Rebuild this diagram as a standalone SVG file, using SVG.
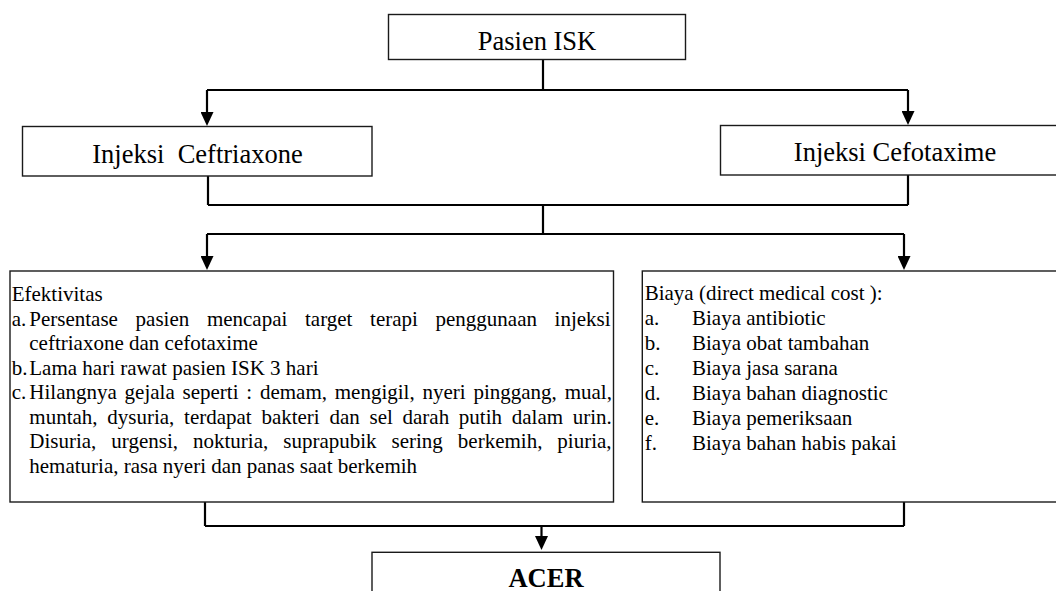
<svg xmlns="http://www.w3.org/2000/svg" width="1056" height="591" viewBox="0 0 1056 591">
<style>
.box{fill:#fff;stroke:#1a1a1a;stroke-width:1.4}
.con{fill:none;stroke:#000;stroke-width:2.2}
.arr{marker-end:url(#ah)}
.t{font-family:"Liberation Serif","Times New Roman",serif;fill:#000}
.h{font-size:26.5px;text-anchor:middle}
.b{font-size:21px}
.acer{font-size:26.5px;font-weight:bold;text-anchor:middle}
</style>
<defs>
<marker id="ah" markerUnits="userSpaceOnUse" viewBox="0 0 14 13" refX="8" refY="6.5" markerWidth="14" markerHeight="13" orient="auto">
<path d="M0,0 L14,6.5 L0,13 z" fill="#000"/>
</marker>
</defs>
<rect width="1056" height="591" fill="#fff"/>
<g id="connectors">
<path class="con" d="M543,59.5 V90 M207,90 H908"/>
<path class="con arr" d="M207,90 V120"/>
<path class="con arr" d="M908,90 V119"/>
<path class="con" d="M208,176 V205 M908,175 V205 M208,205 H908 M543,205 V234 M207,234 H904"/>
<path class="con arr" d="M207,234 V264"/>
<path class="con arr" d="M904,234 V264"/>
<path class="con" d="M205,502 V526 M904,502 V526 M205,526 H904"/>
<path class="con arr" d="M541.5,526 V544"/>
</g>
<g id="pasien">
<rect class="box" x="388.5" y="14.5" width="297" height="45"/>
<text class="t h" x="537" y="50">Pasien ISK</text>
</g>
<g id="ceftriaxone">
<rect class="box" x="22.5" y="126.5" width="349.5" height="49.5"/>
<text class="t h" x="197.5" y="162.5" xml:space="preserve" style="white-space:pre">Injeksi  Ceftriaxone</text>
</g>
<g id="cefotaxime">
<rect class="box" x="720.5" y="125.5" width="345" height="49.5"/>
<text class="t h" x="895" y="161">Injeksi Cefotaxime</text>
</g>
<g id="efektivitas">
<rect class="box" x="10" y="271" width="603.5" height="231"/>
<text class="t b" x="11.7" y="300.5">Efektivitas</text>
<text class="t b" x="11.7" y="325.5">a.</text>
<text class="t b" x="29.3" y="325.5" word-spacing="12.4">Persentase pasien mencapai target terapi penggunaan injeksi</text>
<text class="t b" x="29.3" y="350">ceftriaxone dan cefotaxime</text>
<text class="t b" x="11.7" y="374.5">b.</text>
<text class="t b" x="29.3" y="374.5">Lama hari rawat pasien ISK 3 hari</text>
<text class="t b" x="11.7" y="399">c.</text>
<text class="t b" x="29.3" y="399" word-spacing="2.55">Hilangnya gejala seperti : demam, mengigil, nyeri pinggang, mual,</text>
<text class="t b" x="29.3" y="423.5" word-spacing="4.47">muntah, dysuria, terdapat bakteri dan sel darah putih dalam urin.</text>
<text class="t b" x="29.3" y="448" word-spacing="9.73">Disuria, urgensi, nokturia, suprapubik sering berkemih, piuria,</text>
<text class="t b" x="29.3" y="472.5">hematuria, rasa nyeri dan panas saat berkemih</text>
</g>
<g id="biaya">
<rect class="box" x="642.3" y="271" width="420" height="231"/>
<text class="t b" x="644.7" y="300">Biaya (direct medical cost ):</text>
<text class="t b" x="644.7" y="325.3">a.</text><text class="t b" x="692" y="325.3">Biaya antibiotic</text>
<text class="t b" x="644.7" y="350.3">b.</text><text class="t b" x="692" y="350.3">Biaya obat tambahan</text>
<text class="t b" x="644.7" y="375.3">c.</text><text class="t b" x="692" y="375.3">Biaya jasa sarana</text>
<text class="t b" x="644.7" y="400.2">d.</text><text class="t b" x="692" y="400.2">Biaya bahan diagnostic</text>
<text class="t b" x="644.7" y="425.2">e.</text><text class="t b" x="692" y="425.2">Biaya pemeriksaan</text>
<text class="t b" x="644.7" y="450.3">f.</text><text class="t b" x="692" y="450.3">Biaya bahan habis pakai</text>
</g>
<g id="acer">
<rect class="box" x="372" y="552.3" width="348" height="60"/>
<text class="t acer" x="546" y="587">ACER</text>
</g>
</svg>
